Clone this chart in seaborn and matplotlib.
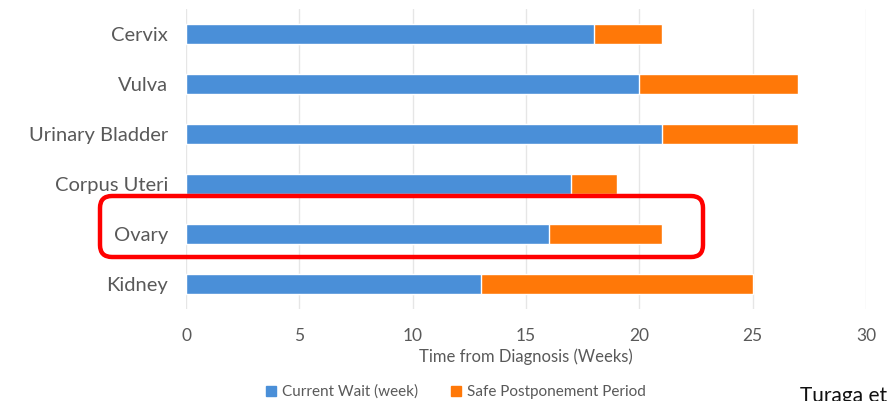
import matplotlib
matplotlib.use("Agg")
import matplotlib.pyplot as plt
from matplotlib.patches import FancyBboxPatch, Patch
import seaborn as sns
import pandas as pd

sites = ["Cervix", "Vulva", "Urinary Bladder", "Corpus Uteri", "Ovary", "Kidney"]
current_wait = [18, 20, 21, 17, 16, 13]
safe_postponement = [3, 7, 6, 2, 5, 12]
x_ticks = [0, 5, 10, 15, 20, 25, 30]

BLUE = "#4A8FD8"
ORANGE = "#FF7808"
TEXT = "#595959"

sns.set_theme(style="white")
plt.rcParams["font.family"] = ["Lato", "DejaVu Sans"]

df = pd.DataFrame({
    "site": sites,
    "current": current_wait,
    "total": [c + s for c, s in zip(current_wait, safe_postponement)],
})

fig = plt.figure(figsize=(8.89, 4.01), dpi=100)
ax = fig.add_axes([186 / 889, 1 - 309 / 401, (866 - 186) / 889, 300 / 401])

# stacked bars: full extent in orange, current wait drawn over it in blue
sns.barplot(data=df, y="site", x="total", color=ORANGE, width=0.4,
            saturation=1, ax=ax, orient="h")
sns.barplot(data=df, y="site", x="current", color=BLUE, width=0.4,
            saturation=1, ax=ax, orient="h")

ax.set_xlim(0, 30)
ax.set_ylim(5.5, -0.5)
ax.set_xticks(x_ticks)
ax.set_xticklabels([str(t) for t in x_ticks])
ax.xaxis.grid(True, color="#E6E6E6", linewidth=1)
ax.set_axisbelow(True)
for s in ax.spines.values():
    s.set_visible(False)
ax.tick_params(axis="x", colors=TEXT, labelsize=12.5, length=0, pad=14)
ax.tick_params(axis="y", colors=TEXT, labelsize=14.5, length=0, pad=13)
ax.set_ylabel("")
ax.set_xlabel("Time from Diagnosis (Weeks)", color=TEXT, fontsize=12, labelpad=3)

# highlight box around the Ovary row
box = FancyBboxPatch((100, 401 - 257), 603, 61,
                     boxstyle="round,pad=0,rounding_size=12",
                     transform=None, fill=False, edgecolor="#FF0000",
                     linewidth=3.2, zorder=10, clip_on=False)
fig.patches.append(box)

handles = [Patch(color=BLUE, label="Current Wait (week)"),
           Patch(color=ORANGE, label="Safe Postponement Period")]
fig.legend(handles=handles, loc="center", bbox_to_anchor=(456 / 889, 1 - 392 / 401),
           ncol=2, frameon=False, fontsize=11, handlelength=0.6, handleheight=0.6,
           handletextpad=0.4, columnspacing=2.2, labelcolor=TEXT)

fig.text(800 / 889, -0.012, "Turaga et al.", fontsize=15,
         color="#111111", ha="left", va="bottom")

fig.savefig("out.png", dpi=100, facecolor="white")
